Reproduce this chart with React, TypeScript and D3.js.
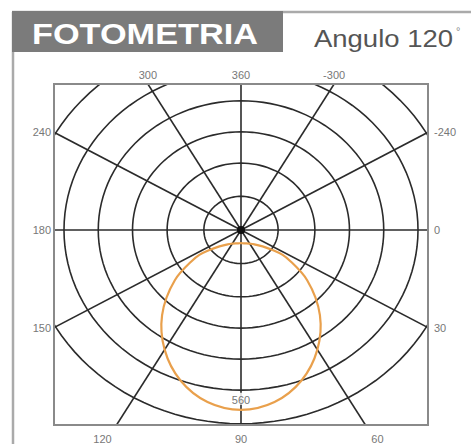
import React from "react";
import * as d3 from "d3";

// photometric curve, candela vs angle from nadir
const beamAngles = [0, 10, 20, 30, 40, 50, 55, 56.5];
const farIntensity = [557, 541, 496, 428, 344, 242, 170, 140];
const nearIntensity = [41, 42, 44, 49, 58, 79, 110, 140];

const ringValues = [104, 207, 304, 400, 496, 600];
const spokeAngles = [0, 30, 60, 90, 120, 150, 180, 210, 240, 270, 300, 330];
const spokeLabels = ["0", "-240", "-300", "360", "300", "240", "180", "150", "120", "90", "60", "30"];
const peakLabel = "560";

const title = "FOTOMETRIA";
const subtitle = "Angulo 120";

const W = 471;
const H = 444;

// plot window in candela units (x right, y up)
const xDomain: [number, number] = [-524, 524];
const yDomain: [number, number] = [-604, 452];

const App: React.FC = () => {
  const x = d3.scaleLinear().domain(xDomain).range([54, 428]);
  const y = d3.scaleLinear().domain(yDomain).range([425, 84]);
  const cx = x(0);
  const cy = y(0);

  const ringPath = (r: number) => {
    const pts = d3.range(0, 361, 3).map((a) => {
      const t = (a * Math.PI) / 180;
      return [x(r * Math.cos(t)), y(r * Math.sin(t))] as [number, number];
    });
    return d3.line()(pts) as string;
  };

  // spoke end: where the ray leaves the plot window
  const spokeEnd = (deg: number) => {
    const t = (deg * Math.PI) / 180;
    const dx = Math.cos(t);
    const dy = Math.sin(t);
    const tx = dx > 1e-9 ? xDomain[1] / dx : dx < -1e-9 ? xDomain[0] / dx : Infinity;
    const ty = dy > 1e-9 ? yDomain[1] / dy : dy < -1e-9 ? yDomain[0] / dy : Infinity;
    const s = Math.min(tx, ty);
    return { ux: dx * s, uy: dy * s, side: tx < ty ? (dx > 0 ? "right" : "left") : dy > 0 ? "top" : "bottom" };
  };

  // build closed loop: far side 0..+max, near side back, mirrored
  const pts: [number, number][] = [];
  beamAngles.forEach((a, i) => pts.push([a, farIntensity[i]]));
  for (let i = beamAngles.length - 2; i >= 0; i--) pts.push([beamAngles[i], nearIntensity[i]]);
  for (let i = 1; i < beamAngles.length; i++) pts.push([-beamAngles[i], nearIntensity[i]]);
  for (let i = beamAngles.length - 2; i > 0; i--) pts.push([-beamAngles[i], farIntensity[i]]);

  const curve = d3
    .line<[number, number]>()
    .x(([a, v]) => x(v * Math.sin((a * Math.PI) / 180)))
    .y(([a, v]) => y(-v * Math.cos((a * Math.PI) / 180)))
    .curve(d3.curveCatmullRomClosed.alpha(0.5));

  const labelFont = "Liberation Sans, Arial, sans-serif";

  return (
    <svg width={W} height={H} style={{ position: "absolute", left: 0, top: 0, background: "#fff" }}>
      <defs>
        <clipPath id="plot-clip">
          <rect x={x(xDomain[0])} y={y(yDomain[1])} width={x(xDomain[1]) - x(xDomain[0])} height={y(yDomain[0]) - y(yDomain[1])} />
        </clipPath>
      </defs>

      {/* outer frame */}
      <line x1={13} y1={12} x2={13} y2={H} stroke="#aaaaaa" strokeWidth={2.5} />
      <line x1={12} y1={12} x2={W} y2={12} stroke="#aaaaaa" strokeWidth={2.5} />
      <rect x={12} y={11} width={271} height={41} fill="#7b7b7b" />
      <text
        x={32}
        y={44}
        fill="#fff"
        fontFamily={labelFont}
        fontWeight="bold"
        fontSize={29}
        textLength={226}
        lengthAdjust="spacingAndGlyphs"
      >
        {title}
      </text>
      <text x={314} y={47} fill="#555" fontFamily={labelFont} fontSize={23} textLength={139} lengthAdjust="spacingAndGlyphs">
        {subtitle}
      </text>
      <text x={456} y={35} fill="#888" fontFamily={labelFont} fontSize={11}>
        °
      </text>

      <g clipPath="url(#plot-clip)">
        {ringValues.map((r) => (
          <path key={r} d={ringPath(r)} fill="none" stroke="#2b2b2b" strokeWidth={1.6} />
        ))}
        {spokeAngles.map((a) => {
          const e = spokeEnd(a);
          return <line key={a} x1={cx} y1={cy} x2={x(e.ux)} y2={y(e.uy)} stroke="#2b2b2b" strokeWidth={1.6} />;
        })}
        <path d={curve(pts) as string} fill="none" stroke="#e9a04c" strokeWidth={2.2} />
      </g>
      <circle cx={cx} cy={cy} r={4} fill="#111" />

      <rect
        x={x(xDomain[0])}
        y={y(yDomain[1])}
        width={x(xDomain[1]) - x(xDomain[0])}
        height={y(yDomain[0]) - y(yDomain[1])}
        fill="none"
        stroke="#8a8a8a"
        strokeWidth={2}
      />

      {/* peak value label */}
      <rect x={cx - 14} y={y(-532) - 9} width={28} height={12} fill="#fff" opacity={0.85} />
      <text x={cx} y={y(-532) + 2} textAnchor="middle" fill="#777" fontFamily={labelFont} fontSize={11}>
        {peakLabel}
      </text>

      {spokeAngles.map((a, i) => {
        const e = spokeEnd(a);
        const px = x(e.ux);
        const py = y(e.uy);
        let tx = px;
        let ty = py;
        let anchor: "start" | "middle" | "end" = "middle";
        if (e.side === "top") {
          ty = py - 5;
        } else if (e.side === "bottom") {
          ty = py + 18;
          tx = px + (e.ux < -1 ? -14 : e.ux > 1 ? 12 : 0);
        } else if (e.side === "left") {
          tx = px - 3;
          ty = py + 4;
          anchor = "end";
        } else {
          tx = px + 6;
          ty = py + 4;
          anchor = "start";
        }
        return (
          <text key={a} x={tx} y={ty} textAnchor={anchor} fill="#777" fontFamily={labelFont} fontSize={11}>
            {spokeLabels[i]}
          </text>
        );
      })}
    </svg>
  );
};

export default App;
